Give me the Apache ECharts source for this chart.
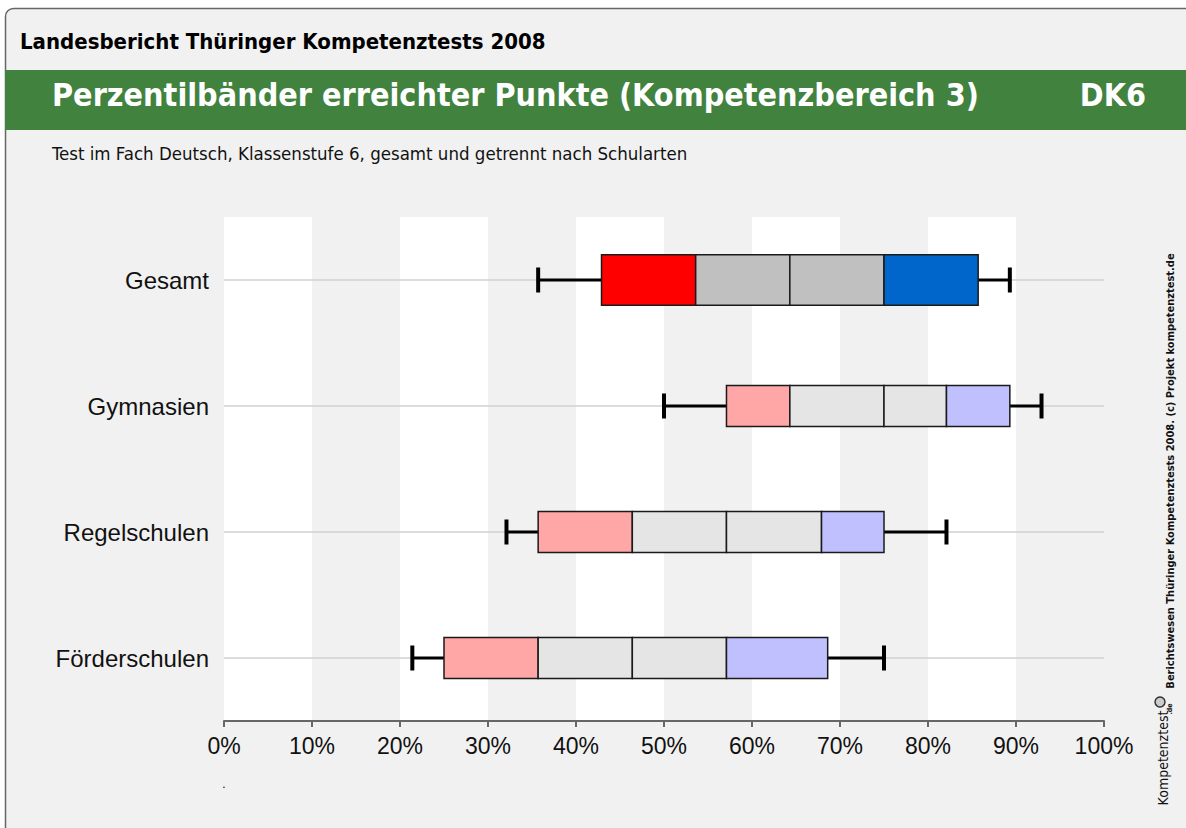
<!DOCTYPE html>
<html>
<head>
<meta charset="utf-8">
<script src="https://cdn.jsdelivr.net/npm/echarts@6/dist/echarts.min.js"></script>
<style>
  html, body { margin: 0; padding: 0; background: #ffffff; overflow: hidden; }
  #chart { position: absolute; left: 0; top: 0; width: 1186px; height: 828px; }
</style>
</head>
<body>
<div id="chart"></div>
<script>
// Perzentile je Schulart (in % der erreichbaren Punkte)
const categories = ['Gesamt', 'Gymnasien', 'Regelschulen', 'Förderschulen']
const p05 = [35.7, 50.0, 32.1, 21.4]
const p10 = [42.9, 57.1, 35.7, 25.0]
const p25 = [53.6, 64.3, 46.4, 35.7]
const p50 = [64.3, 75.0, 57.1, 46.4]
const p75 = [75.0, 82.1, 67.9, 57.1]
const p90 = [85.7, 89.3, 75.0, 68.6]
const p95 = [89.3, 92.9, 82.1, 75.0]

// Farben: Gesamt kräftig, Schularten blass
const colorsTotal = ['#ff0000', '#c0c0c0', '#c0c0c0', '#0066cc']
const colorsSchool = ['#ffa6a6', '#e5e5e5', '#e5e5e5', '#c0c0ff']

const FONT = '"Liberation Sans", Arial, sans-serif'
const HEAD = '"DejaVu Sans Condensed", "DejaVu Sans", sans-serif'

const chart = echarts.init(document.getElementById('chart'), null, { renderer: 'svg' })

function renderBand(params, api) {
  const i = api.value(0)
  const v = [1, 2, 3, 4, 5, 6, 7].map(k => api.value(k))
  const pt = v.map(x => api.coord([x, i]))
  const y = pt[0][1]
  const band = api.size([0, 1])[1]
  const h = i === 0 ? band * 0.4 : band * 0.325
  const cols = i === 0 ? colorsTotal : colorsSchool
  const left = api.coord([0, i])[0]
  const right = api.coord([100, i])[0]
  const children = [
    { type: 'line', shape: { x1: left, y1: y, x2: right, y2: y }, style: { stroke: '#d0d0d0', lineWidth: 1.5 } },
    { type: 'line', shape: { x1: pt[0][0], y1: y, x2: pt[1][0], y2: y }, style: { stroke: '#000', lineWidth: 3 } },
    { type: 'line', shape: { x1: pt[5][0], y1: y, x2: pt[6][0], y2: y }, style: { stroke: '#000', lineWidth: 3 } },
    { type: 'line', shape: { x1: pt[0][0], y1: y - 12.5, x2: pt[0][0], y2: y + 12.5 }, style: { stroke: '#000', lineWidth: 4 } },
    { type: 'line', shape: { x1: pt[6][0], y1: y - 12.5, x2: pt[6][0], y2: y + 12.5 }, style: { stroke: '#000', lineWidth: 4 } }
  ]
  for (let k = 0; k < 4; k++) {
    children.push({
      type: 'rect',
      shape: { x: pt[k + 1][0], y: y - h / 2, width: pt[k + 2][0] - pt[k + 1][0], height: h },
      style: { fill: cols[k], stroke: '#1a1a1a', lineWidth: 1.5 }
    })
  }
  return { type: 'group', children }
}

chart.setOption({
  backgroundColor: '#ffffff',
  animation: false,
  grid: { left: 224, right: 82, top: 217, height: 504 },
  xAxis: {
    type: 'value', min: 0, max: 100, interval: 10,
    axisLine: { show: true, lineStyle: { color: '#666', width: 2 } },
    axisTick: { show: true, length: 6, lineStyle: { color: '#666', width: 2 } },
    axisLabel: { formatter: '{value}%', fontSize: 23, color: '#111', fontFamily: FONT, margin: 13 },
    splitLine: { show: false },
    splitArea: { show: true, areaStyle: { color: ['#ffffff', '#f1f1f1'] } }
  },
  yAxis: {
    type: 'category', data: categories, inverse: true,
    axisLine: { show: false }, axisTick: { show: false },
    axisLabel: { fontSize: 24, color: '#111', fontFamily: FONT, margin: 15 },
    splitLine: { show: false }
  },
  series: [{
    type: 'custom',
    renderItem: renderBand,
    encode: { x: [1, 2, 3, 4, 5, 6, 7], y: 0 },
    data: categories.map((c, i) => [i, p05[i], p10[i], p25[i], p50[i], p75[i], p90[i], p95[i]])
  }],
  graphic: [
    { type: 'rect', z: -10, shape: { x: 5.5, y: 8.5, width: 1300, height: 900, r: 8 },
      style: { fill: '#f1f1f1', stroke: '#666', lineWidth: 1.5 } },
    { type: 'text', left: 20, top: 30, style: { text: 'Landesbericht Thüringer Kompetenztests 2008', font: 'bold 22px ' + HEAD, fill: '#000' } },
    { type: 'rect', shape: { x: 5, y: 70, width: 1181, height: 60 }, style: { fill: '#41823f' } },
    { type: 'text', left: 52, top: 79, style: { text: 'Perzentilbänder erreichter Punkte (Kompetenzbereich 3)', font: 'bold 32px ' + HEAD, fill: '#fff' } },
    { type: 'text', right: 40, top: 79, style: { text: 'DK6', font: 'bold 32px ' + HEAD, fill: '#fff' } },
    { type: 'text', left: 52, top: 144, style: { text: 'Test im Fach Deutsch, Klassenstufe 6, gesamt und getrennt nach Schularten', font: '18.5px ' + HEAD, fill: '#111' } },
    { type: 'text', x: 1170, y: 471, rotation: Math.PI / 2,
      style: { text: 'Berichtswesen Thüringer Kompetenztests 2008. (c) Projekt kompetenztest.de', font: 'bold 11px ' + HEAD, fill: '#111', align: 'center', verticalAlign: 'middle' } },
    { type: 'text', x: 1163, y: 758, rotation: Math.PI / 2,
      style: { text: 'Kompetenztest', font: '14px ' + HEAD, fill: '#111', align: 'center', verticalAlign: 'middle' } },
    { type: 'text', x: 1170, y: 709, rotation: Math.PI / 2,
      style: { text: '.de', font: 'bold 7px ' + HEAD, fill: '#111', align: 'center', verticalAlign: 'middle' } },
    { type: 'circle', shape: { cx: 1160, cy: 702, r: 5 }, style: { fill: '#ccc', stroke: '#333', lineWidth: 1.5 } },
    { type: 'text', x: 224, y: 784, style: { text: '.', font: '12px ' + FONT, fill: '#000', align: 'center', verticalAlign: 'middle' } }
  ]
})
</script>
</body>
</html>
